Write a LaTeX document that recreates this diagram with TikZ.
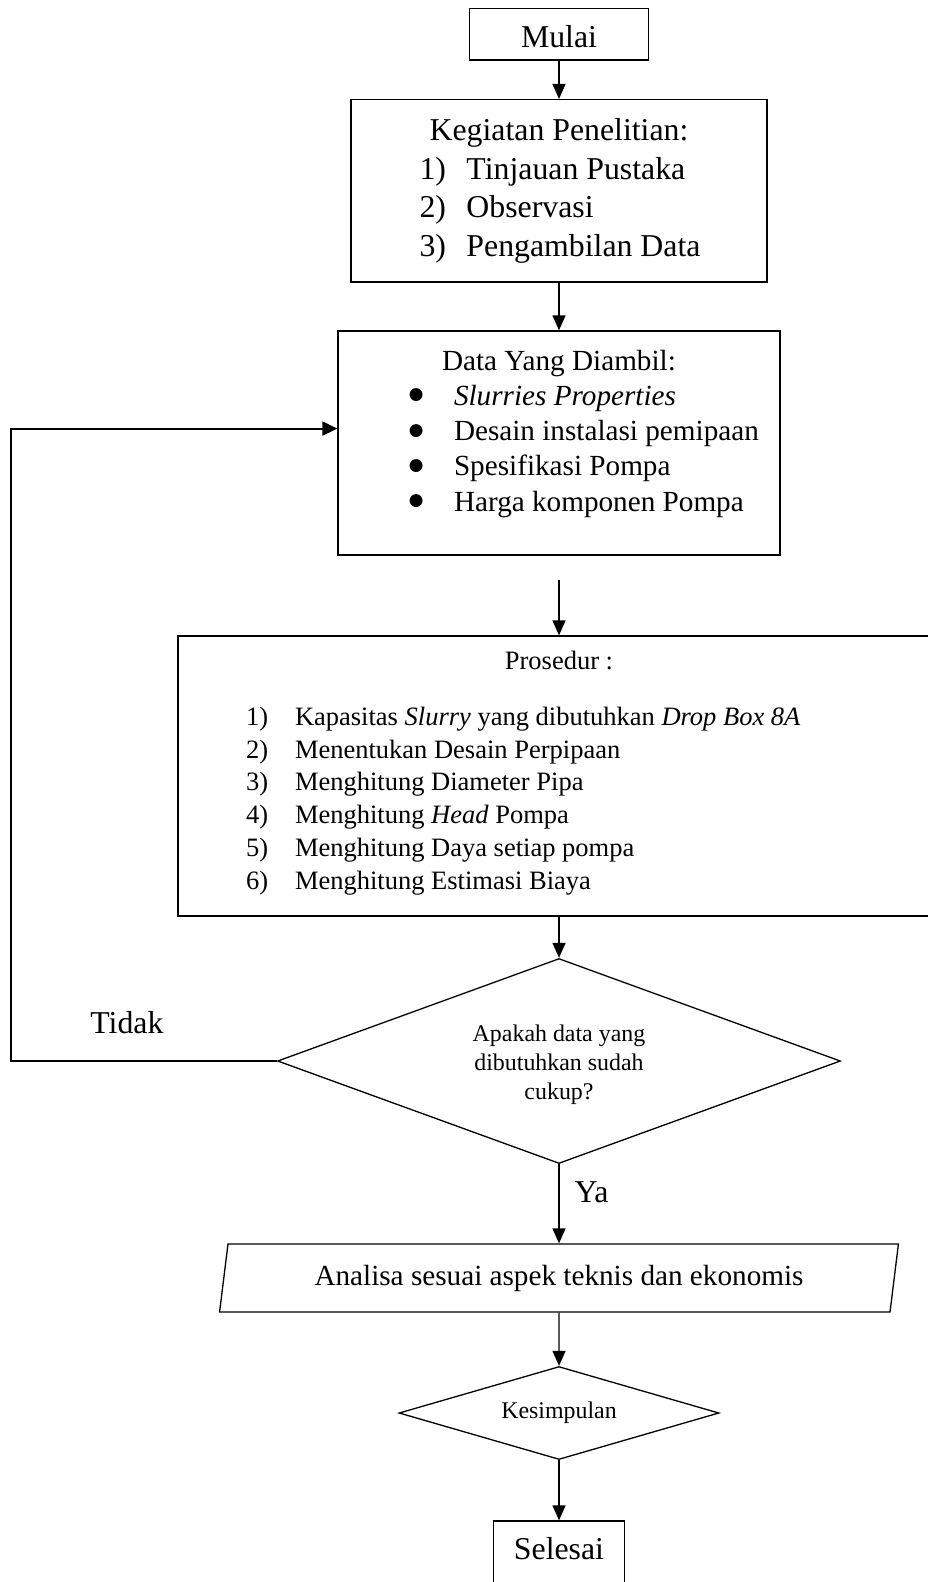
\documentclass[tikz,border=0pt]{standalone}
\usepackage{fontspec}
\setmainfont{Liberation Serif}
\usepackage{tikz}
\usetikzlibrary{positioning, arrows.meta, shapes.geometric}
\tikzstyle{arrow} = [line width=1.3pt,-{Triangle[length=15pt,width=13pt]}]
\tikzstyle{backline} = [line width=2pt,-{Triangle[length=15pt,width=14pt]}]
\tikzstyle{terminal} = [rectangle, draw=black, line width=1.3pt, inner sep=0pt, font=\fontsize{31.8}{38.7}\selectfont]
\tikzstyle{process} = [rectangle, draw=black, line width=1.3pt, inner sep=0pt, align=left]
\tikzstyle{decision} = [diamond, draw=black, line width=1.3pt, inner sep=0pt, align=center, font=\fontsize{23.9}{29}\selectfont]
\tikzstyle{inout} = [trapezium, trapezium left angle=76.8, trapezium right angle=103.2, trapezium stretches=true, draw=black, line width=1.3pt, inner sep=0pt, font=\fontsize{29.2}{35}\selectfont]
\tikzstyle{answer} = [inner sep=0pt, font=\fontsize{31.8}{38.7}\selectfont]
\newcommand{\bigdot}{\raisebox{1.5pt}[0pt][0pt]{\fontsize{30}{30}\selectfont ●}}

\begin{document}
\begin{tikzpicture}[x=1pt, y=1pt, node distance=150pt]
        \useasboundingbox (0,0) rectangle (928,-1582);
        \clip (0,0) rectangle (928,-1582);

        \node (mulai) [terminal, minimum width=179pt, text height=38.9pt, text depth=12.5pt] at (559,-34.3) {Mulai};
        \node (kegiatan) [process, minimum width=416pt, minimum height=182.4pt, font=\fontsize{31.8}{38.7}\selectfont, below of=mulai, yshift=-6.5pt]
            {\makebox[416pt]{Kegiatan Penelitian:}\\
             \makebox[416pt][l]{\hspace*{68.5pt}\makebox[47pt][l]{1)}Tinjauan Pustaka}\\
             \makebox[416pt][l]{\hspace*{68.5pt}\makebox[47pt][l]{2)}Observasi}\\
             \makebox[416pt][l]{\hspace*{68.5pt}\makebox[47pt][l]{3)}Pengambilan Data}};
        \node (data) [process, minimum width=442pt, minimum height=224pt, font=\fontsize{29.2}{35.3}\selectfont, below of=kegiatan, yshift=-102.2pt]
            {\makebox[442pt]{Data Yang Diambil:}\\
             \makebox[442pt][l]{\hspace*{69pt}\makebox[47pt][l]{\bigdot}\textit{Slurries Properties}}\\
             \makebox[442pt][l]{\hspace*{69pt}\makebox[47pt][l]{\bigdot}Desain instalasi pemipaan}\\
             \makebox[442pt][l]{\hspace*{69pt}\makebox[47pt][l]{\bigdot}Spesifikasi Pompa}\\
             \makebox[442pt][l]{\hspace*{69pt}\makebox[47pt][l]{\bigdot}Harga komponen Pompa}\rule[-25pt]{0pt}{1pt}};
        \node (prosedur) [process, minimum width=762pt, minimum height=280pt, font=\fontsize{26.5}{32.8}\selectfont, below of=data, yshift=-183pt]
            {\makebox[762pt]{Prosedur :}\\[23.2pt]
             \makebox[762pt][l]{\hspace*{68pt}\makebox[49pt][l]{1)}Kapasitas \textit{Slurry} yang dibutuhkan \textit{Drop Box 8A}}\\
             \makebox[762pt][l]{\hspace*{68pt}\makebox[49pt][l]{2)}Menentukan Desain Perpipaan}\\
             \makebox[762pt][l]{\hspace*{68pt}\makebox[49pt][l]{3)}Menghitung Diameter Pipa}\\
             \makebox[762pt][l]{\hspace*{68pt}\makebox[49pt][l]{4)}Menghitung \textit{Head} Pompa}\\
             \makebox[762pt][l]{\hspace*{68pt}\makebox[49pt][l]{5)}Menghitung Daya setiap pompa}\\
             \makebox[762pt][l]{\hspace*{68pt}\makebox[49pt][l]{6)}Menghitung Estimasi Biaya}\rule[-11.75pt]{0pt}{1pt}};
        \node (cek) [decision, minimum width=563pt, minimum height=205pt, aspect=2.75, below of=prosedur, yshift=-135pt]
            {\rule{0pt}{24.3pt}Apakah data yang\\dibutuhkan sudah\\cukup?};
        \node (analisa) [inout, minimum width=682.5pt, minimum height=68pt, below of=cek, yshift=-67pt] {Analisa sesuai aspek teknis dan ekonomis};
        \node (kesimpulan) [decision, minimum width=320pt, minimum height=93pt, aspect=3.44, below of=analisa, yshift=15pt] {Kesimpulan};
        \node (selesai) [terminal, minimum width=130.5pt, text height=38pt, text depth=42pt, below of=kesimpulan, yshift=2pt] {Selesai};

        \coordinate (datagap) at ([yshift=-24pt]data.south);
        \coordinate (loopleft) at (11,-700);

        \draw [arrow] (mulai) -- (kegiatan);
        \draw [arrow] (kegiatan) -- (data);
        \draw [arrow] (datagap) -- (prosedur);
        \draw [arrow] (prosedur) -- (cek);
        \draw [arrow] (cek) -- node (ya) [answer, pos=0.49, anchor=base west, xshift=15pt] {Ya} (analisa);
        \draw [arrow] (analisa) -- (kesimpulan);
        \draw [arrow] (kesimpulan) -- (selesai);
        \draw [backline] (cek.west) -- node (tidak) [answer, pos=0.564, anchor=base, yshift=28pt] {Tidak} (cek.west -| loopleft) |- ([yshift=14.4pt]data.west);
\end{tikzpicture}
\end{document}
